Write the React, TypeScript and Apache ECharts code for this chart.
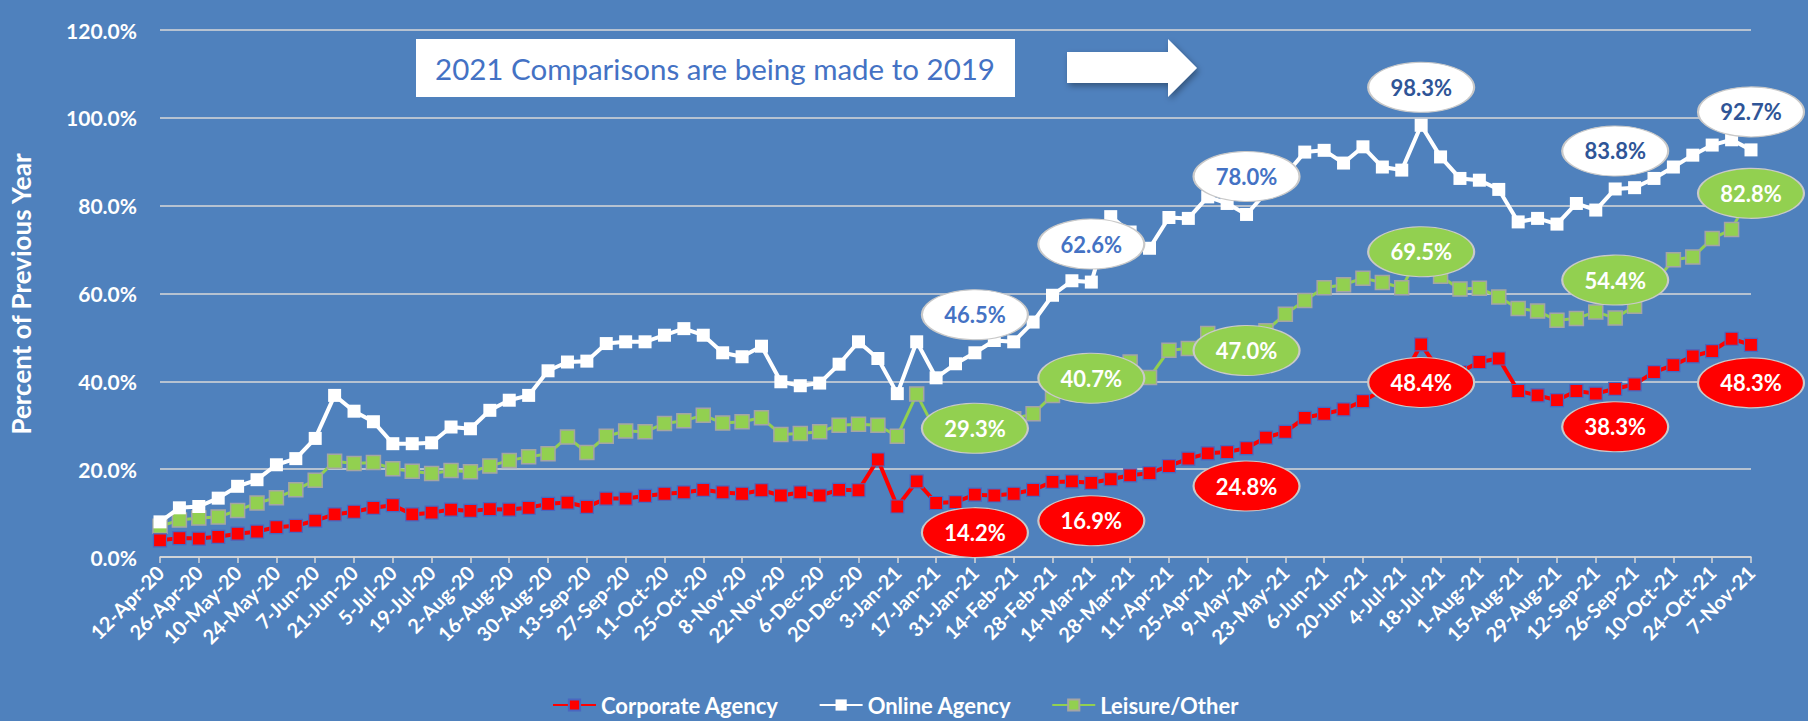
import React, { useEffect, useRef } from "react";
import * as echarts from "echarts";

const FONT = "Lato";

const weeks = [
  "12-Apr-20", "19-Apr-20", "26-Apr-20", "3-May-20", "10-May-20", "17-May-20", "24-May-20", "31-May-20", "7-Jun-20", "14-Jun-20",
  "21-Jun-20", "28-Jun-20", "5-Jul-20", "12-Jul-20", "19-Jul-20", "26-Jul-20", "2-Aug-20", "9-Aug-20", "16-Aug-20", "23-Aug-20",
  "30-Aug-20", "6-Sep-20", "13-Sep-20", "20-Sep-20", "27-Sep-20", "4-Oct-20", "11-Oct-20", "18-Oct-20", "25-Oct-20", "1-Nov-20",
  "8-Nov-20", "15-Nov-20", "22-Nov-20", "29-Nov-20", "6-Dec-20", "13-Dec-20", "20-Dec-20", "27-Dec-20", "3-Jan-21", "10-Jan-21",
  "17-Jan-21", "24-Jan-21", "31-Jan-21", "7-Feb-21", "14-Feb-21", "21-Feb-21", "28-Feb-21", "7-Mar-21", "14-Mar-21", "21-Mar-21",
  "28-Mar-21", "4-Apr-21", "11-Apr-21", "18-Apr-21", "25-Apr-21", "2-May-21", "9-May-21", "16-May-21", "23-May-21", "30-May-21",
  "6-Jun-21", "13-Jun-21", "20-Jun-21", "27-Jun-21", "4-Jul-21", "11-Jul-21", "18-Jul-21", "25-Jul-21", "1-Aug-21", "8-Aug-21",
  "15-Aug-21", "22-Aug-21", "29-Aug-21", "5-Sep-21", "12-Sep-21", "19-Sep-21", "26-Sep-21", "3-Oct-21", "10-Oct-21", "17-Oct-21",
  "24-Oct-21", "31-Oct-21", "7-Nov-21",
];

const corporate = [
  3.8, 4.3, 4.2, 4.6, 5.3, 5.8, 6.8, 7.1, 8.3, 9.7,
  10.3, 11.2, 11.8, 9.7, 10.1, 10.8, 10.5, 10.9, 10.8, 11.2,
  12.1, 12.4, 11.4, 13.3, 13.3, 13.9, 14.4, 14.7, 15.3, 14.7,
  14.4, 15.2, 14.0, 14.7, 14.0, 15.3, 15.2, 22.2, 11.5, 17.2,
  12.3, 12.5, 14.2, 14.0, 14.4, 15.3, 17.1, 17.2, 16.9, 17.7,
  18.6, 19.1, 20.7, 22.4, 23.6, 23.9, 24.8, 27.2, 28.5, 31.7,
  32.6, 33.6, 35.5, 38.0, 40.5, 48.4, 42.0, 42.1, 44.4, 45.2,
  37.8, 36.8, 35.7, 37.8, 37.2, 38.3, 39.3, 42.1, 43.7, 45.7,
  46.9, 49.7, 48.3,
];

const online = [
  8.0, 11.2, 11.5, 13.4, 16.1, 17.6, 21.0, 22.4, 27.0, 36.8,
  33.2, 30.8, 25.8, 25.8, 26.0, 29.6, 29.2, 33.4, 35.7, 36.8,
  42.4, 44.4, 44.6, 48.6, 49.0, 49.0, 50.5, 52.0, 50.5, 46.5,
  45.6, 48.0, 39.9, 39.0, 39.6, 43.9, 49.0, 45.2, 37.2, 49.0,
  40.8, 44.0, 46.5, 49.3, 49.0, 53.5, 59.6, 62.9, 62.6, 77.5,
  74.0, 70.3, 77.3, 77.1, 82.0, 80.5, 78.0, 83.0, 87.0, 92.2,
  92.6, 89.7, 93.4, 88.8, 88.1, 98.3, 91.1, 86.2, 85.8, 83.7,
  76.3, 77.1, 75.8, 80.5, 79.0, 83.8, 84.1, 86.2, 88.8, 91.5,
  93.8, 95.0, 92.7,
];

const leisure = [
  7.0, 8.4, 8.9, 9.1, 10.6, 12.3, 13.5, 15.3, 17.5, 21.8,
  21.3, 21.5, 20.1, 19.5, 19.0, 19.7, 19.4, 20.7, 22.0, 22.8,
  23.5, 27.3, 23.8, 27.5, 28.7, 28.5, 30.4, 31.0, 32.3, 30.5,
  30.8, 31.7, 27.9, 28.1, 28.5, 30.0, 30.2, 30.0, 27.5, 37.1,
  28.5, 29.0, 29.3, 30.5, 31.5, 32.6, 36.8, 39.5, 40.7, 42.0,
  44.4, 40.9, 47.1, 47.5, 50.9, 49.5, 47.0, 51.5, 55.3, 58.4,
  61.3, 62.0, 63.5, 62.5, 61.3, 69.5, 63.9, 61.0, 61.2, 59.2,
  56.6, 56.0, 53.9, 54.3, 55.8, 54.4, 57.1, 62.3, 67.7, 68.3,
  72.5, 74.6, 82.8,
];

const seriesNames = ["Corporate Agency", "Online Agency", "Leisure/Other"];
const labelWeeks = [42, 48, 56, 65, 75, 82];
const noteText = "2021 Comparisons are being made to 2019";
const axisTitle = "Percent of Previous Year";

const corporateShift = [38, 38, 38, 38, 38, 38];
const onlineShift = [-38, -38, -38, -38, -38, -38];
const leisureShift = [0, 0, 0, 0, -38, 0];
const onlineTextColors = ["#4472C4", "#4472C4", "#4472C4", "#2F5597", "#2F5597", "#2F5597"];

function ellipses(values: number[], shifts: number[], fill: string, textColors: string[]) {
  return labelWeeks.map((idx, i) => ({
    coord: [weeks[idx], values[idx]],
    value: values[idx],
    symbol: "circle",
    symbolSize: [106, 50],
    symbolOffset: [0, shifts[i]],
    itemStyle: { color: fill, borderColor: "#C9C9C9", borderWidth: 1.5 },
    label: {
      show: true,
      position: "inside",
      formatter: values[idx].toFixed(1) + "%",
      color: textColors[i],
      fontSize: 22,
      fontWeight: "bold",
      fontFamily: FONT,
    },
  }));
}

export default function App() {
  const ref = useRef<HTMLDivElement>(null);

  useEffect(() => {
    const chart = echarts.init(ref.current as HTMLDivElement, null, { renderer: "svg" });
    const white6 = ["#FFFFFF", "#FFFFFF", "#FFFFFF", "#FFFFFF", "#FFFFFF", "#FFFFFF"];
    const option: any = {
      animation: false,
      backgroundColor: "#4F81BD",
      textStyle: { fontFamily: FONT },
      grid: { left: 160, right: 57, top: 30, bottom: 164, containLabel: false },
      legend: {
        data: seriesNames,
        left: 552,
        top: 692,
        padding: 0,
        itemWidth: 43,
        itemHeight: 14,
        itemGap: 40,
        textStyle: { color: "#FFFFFF", fontSize: 22, fontWeight: "bold", fontFamily: FONT, lineHeight: 26 },
      },
      xAxis: {
        type: "category",
        data: weeks,
        boundaryGap: false,
        axisLine: { show: true, lineStyle: { color: "#D9D9D9", width: 1.5 } },
        axisTick: { show: true, interval: 1, length: 6, lineStyle: { color: "#D9D9D9", width: 1.5 } },
        axisLabel: {
          interval: 1,
          rotate: 45,
          color: "#FFFFFF",
          fontSize: 20,
          fontWeight: "bold",
          fontFamily: FONT,
          margin: 12,
        },
        splitLine: { show: false },
      },
      yAxis: {
        type: "value",
        min: 0,
        max: 120,
        interval: 20,
        axisLine: { show: false },
        axisTick: { show: false },
        axisLabel: {
          color: "#FFFFFF",
          fontSize: 21,
          fontWeight: "bold",
          fontFamily: FONT,
          margin: 23,
          formatter: (v: number) => v.toFixed(1) + "%",
        },
        splitLine: { show: true, lineStyle: { color: "#D9D9D9", width: 1.5 } },
      },
      series: [
        {
          name: seriesNames[0],
          type: "line",
          data: corporate,
          symbol: "rect",
          symbolSize: 13,
          showAllSymbol: true,
          z: 4,
          lineStyle: { color: "#FF0000", width: 4 },
          itemStyle: { color: "#FF0000", borderColor: "#4A66C0", borderWidth: 1.2 },
          markPoint: { silent: true, data: ellipses(corporate, corporateShift, "#FF0000", white6) },
        },
        {
          name: seriesNames[1],
          type: "line",
          data: online,
          symbol: "rect",
          symbolSize: 13,
          showAllSymbol: true,
          z: 3,
          lineStyle: { color: "#FFFFFF", width: 4 },
          itemStyle: { color: "#FFFFFF", borderColor: "#FFFFFF", borderWidth: 0 },
          markPoint: { silent: true, data: ellipses(online, onlineShift, "#FFFFFF", onlineTextColors) },
        },
        {
          name: seriesNames[2],
          type: "line",
          data: leisure,
          symbol: "rect",
          symbolSize: 14,
          showAllSymbol: true,
          z: 2,
          lineStyle: { color: "#92D050", width: 3 },
          itemStyle: { color: "#92D050", borderColor: "#A5A5A5", borderWidth: 1.5 },
          markPoint: { silent: true, data: ellipses(leisure, leisureShift, "#92D050", white6) },
        },
      ],
      graphic: [
        {
          type: "rect",
          z: 50,
          shape: { x: 416, y: 39, width: 599, height: 58 },
          style: { fill: "#FFFFFF" },
        },
        {
          type: "text",
          z: 51,
          x: 715,
          y: 68,
          style: {
            text: noteText,
            fill: "#4472C4",
            font: `29.5px ${FONT}`,
            align: "center",
            verticalAlign: "middle",
          },
        },
        {
          type: "polygon",
          z: 50,
          shape: {
            points: [
              [1067, 52], [1168, 52], [1168, 39], [1197, 68], [1168, 97], [1168, 83], [1067, 83],
            ],
          },
          style: {
            fill: "#FFFFFF",
            shadowBlur: 6,
            shadowColor: "rgba(0,0,0,0.35)",
            shadowOffsetX: 2,
            shadowOffsetY: 3,
          },
        },
        {
          type: "line",
          z: 100,
          shape: { x1: 1046, y1: 3, x2: 1046, y2: 560 },
          style: {
            stroke: "#FFFFFF",
            lineWidth: 3.5,
            shadowBlur: 4,
            shadowColor: "rgba(0,0,0,0.3)",
            shadowOffsetX: 1,
          },
        },
        {
          type: "text",
          z: 50,
          x: 21,
          y: 294,
          rotation: Math.PI / 2,
          style: {
            text: axisTitle,
            fill: "#FFFFFF",
            font: `bold 26px ${FONT}`,
            align: "center",
            verticalAlign: "middle",
          },
        },
      ],
    };
    chart.setOption(option);
    return () => chart.dispose();
  }, []);

  return (
    <div
      ref={ref}
      style={{ position: "absolute", left: 0, top: 0, width: 1808, height: 721 }}
    />
  );
}
